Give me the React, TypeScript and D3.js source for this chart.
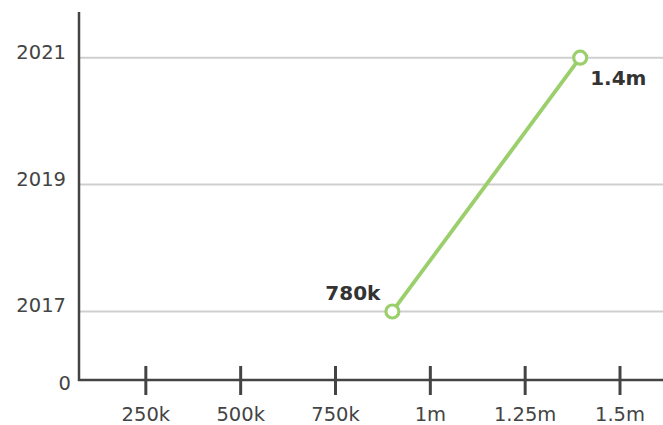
import React from "react";
import * as d3 from "d3";

const years = [2017, 2021];
const values = [900000, 1395000];
const pointLabels = ["780k", "1.4m"];
const yTicks = [2017, 2019, 2021];
const xTicks = [250000, 500000, 750000, 1000000, 1250000, 1500000];
const xTickLabels = ["250k", "500k", "750k", "1m", "1.25m", "1.5m"];

const W = 663;
const H = 425;
const FONT = "'DejaVu Sans', sans-serif";

export default function App() {
  const x = d3.scaleLinear().domain([0, 1500000]).range([51, 620]);
  const y = d3.scaleLinear().domain([2015.92, 2021.72]).range([380, 12]);
  const axisX = 79;
  const axisY = y(2015.92);
  const pts = years.map((yr, i) => ({ yr, v: values[i], label: pointLabels[i] }));
  const line = d3
    .line<{ yr: number; v: number }>()
    .x((d) => x(d.v))
    .y((d) => y(d.yr));

  return (
    <svg
      width={W}
      height={H}
      style={{ position: "absolute", left: 0, top: 0, display: "block" }}
      fontFamily={FONT}
    >
      <rect width={W} height={H} fill="#fff" />
      {yTicks.map((t) => (
        <g key={t}>
          <line x1={axisX} x2={W} y1={y(t)} y2={y(t)} stroke="#cfcfcf" strokeWidth={2} />
          <text x={66} y={y(t) + 1} textAnchor="end" fontSize={19.5} fill="#444">
            {t}
          </text>
        </g>
      ))}
      <text x={71} y={390} textAnchor="end" fontSize={19.5} fill="#444">
        0
      </text>
      <line x1={axisX} x2={axisX} y1={12} y2={axisY + 1} stroke="#444" strokeWidth={2.5} />
      <line x1={axisX - 1} x2={W} y1={axisY} y2={axisY} stroke="#444" strokeWidth={2.5} />
      {xTicks.map((t, i) => (
        <g key={t}>
          <line x1={x(t)} x2={x(t)} y1={366} y2={395} stroke="#444" strokeWidth={3} />
          <text x={x(t)} y={421} textAnchor="middle" fontSize={19.5} fill="#444">
            {xTickLabels[i]}
          </text>
        </g>
      ))}
      <path d={line(pts) || ""} fill="none" stroke="#9bcf6b" strokeWidth={3.8} />
      {pts.map((p) => (
        <circle key={p.yr} cx={x(p.v)} cy={y(p.yr)} r={6.5} fill="#fff" stroke="#9bcf6b" strokeWidth={3.2} />
      ))}
      <text x={x(pts[0].v) - 12} y={y(pts[0].yr) - 11} textAnchor="end" fontSize={20} fontWeight="bold" fill="#333">
        {pts[0].label}
      </text>
      <text x={x(pts[1].v) + 10} y={y(pts[1].yr) + 27} textAnchor="start" fontSize={20} fontWeight="bold" fill="#333">
        {pts[1].label}
      </text>
    </svg>
  );
}
